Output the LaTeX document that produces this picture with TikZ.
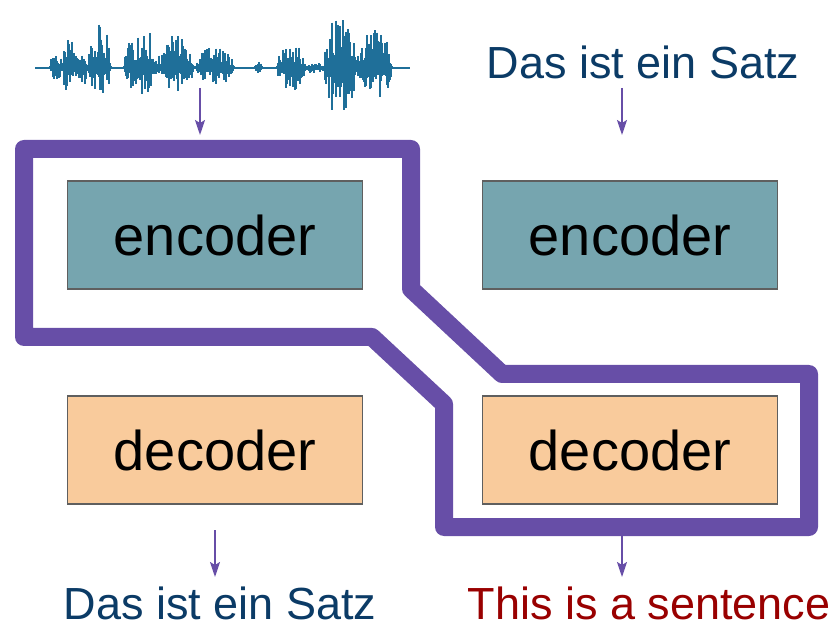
\documentclass[tikz,border=0pt]{standalone}
\usepackage{fontspec}
\setmainfont{Liberation Sans}
\usetikzlibrary{arrows.meta}
\definecolor{ringcol}{HTML}{674EA7}
\definecolor{enccol}{HTML}{76A5AF}
\definecolor{deccol}{HTML}{F9CB9C}
\definecolor{boxline}{HTML}{5F5F5F}
\definecolor{wavecol}{HTML}{1F6F99}
\definecolor{srccol}{HTML}{0B3B66}
\definecolor{tgtcol}{HTML}{990000}
\tikzset{
  unit/.style={draw=boxline, line width=1.3pt, minimum width=295pt, minimum height=108pt,
    inner sep=0pt, font=\fontsize{56}{60}\selectfont},
  encbox/.style={unit, fill=enccol},
  decbox/.style={unit, fill=deccol},
  sentence/.style={anchor=base, inner sep=0pt, font=\fontsize{45}{48}\selectfont},
  flow/.style={draw=ringcol, line width=1.8pt, -{Stealth[length=15pt,width=10pt,inset=3pt]}},
  ring/.style={draw=ringcol, line width=18pt, line join=round},
  wave/.style={draw=wavecol, line width=1.1pt}
}
\begin{document}
\begin{tikzpicture}[x=1pt,y=-1pt]
\useasboundingbox (0,0) rectangle (833,628);

% speech waveform: bursts of random spikes around a flat base line
\draw[wave, line width=1.3pt] (35,68) -- (410,68);
\pgfmathsetseed{4711}
\foreach \s/\e/\t/\b in {50/62/16/12, 62/75/32/24, 75/88/26/20, 88/111/46/30,
    124/160/38/26, 160/194/32/22, 196/234/22/17, 255/262/7/7,
    277/306/23/21, 306/325/4/4, 324/356/56/52, 356/392/38/32}{
  \pgfmathtruncatemacro{\n}{(\e-\s)/1.0}
  \foreach \i in {0,...,\n}{
    \pgfmathsetmacro{\x}{\s+\i*1.0}
    \pgfmathsetmacro{\env}{sqrt(abs(sin(180*(\x-\s)/(\e-\s))))}
    \pgfmathsetmacro{\ru}{rnd}
    \pgfmathsetmacro{\rd}{rnd}
    \pgfmathsetmacro{\up}{\t*\env*(0.15+0.85*\ru*\ru)+1.5}
    \pgfmathsetmacro{\dn}{\b*\env*(0.15+0.85*\rd*\rd)+1.5}
    \draw[wave] (\x,68-\up) -- (\x,68+\dn);
  }
}

% blocks
\node[encbox] (encL) at (215,235) {encoder};
\node[encbox] (encR) at (630,235) {encoder};
\node[decbox] (decL) at (215,450) {decoder};
\node[decbox] (decR) at (630,450) {decoder};

% sentences
\node[sentence, text=srccol] (srcTop) at (643,79) {Das ist ein Satz};
\node[sentence, text=srccol] (outL) at (220,619) {Das ist ein Satz};
\node[sentence, text=tgtcol] (outR) at (649,619) {This is a sentence};

% arrow end points
\coordinate (wIn) at (200,88);
\coordinate (wTo) at (200,135);
\coordinate (tIn) at (622,88);
\coordinate (tTo) at (622,135);
\coordinate (lFrom) at (215,530);
\coordinate (lTo) at (215,577);
\coordinate (rFrom) at (622,530);
\coordinate (rTo) at (622,577);

\draw[flow] (wIn) -- (wTo);
\draw[flow] (tIn) -- (tTo);
\draw[flow] (lFrom) -- (lTo);
\draw[flow] (rFrom) -- (rTo);

% highlighted encoder/decoder pair
\draw[ring] (24,149) -- (411,149) -- (411,289) -- (502,374) -- (809,374)
  -- (809,527) -- (444,527) -- (444,404) -- (372,337) -- (24,337) -- cycle;
\end{tikzpicture}
\end{document}
